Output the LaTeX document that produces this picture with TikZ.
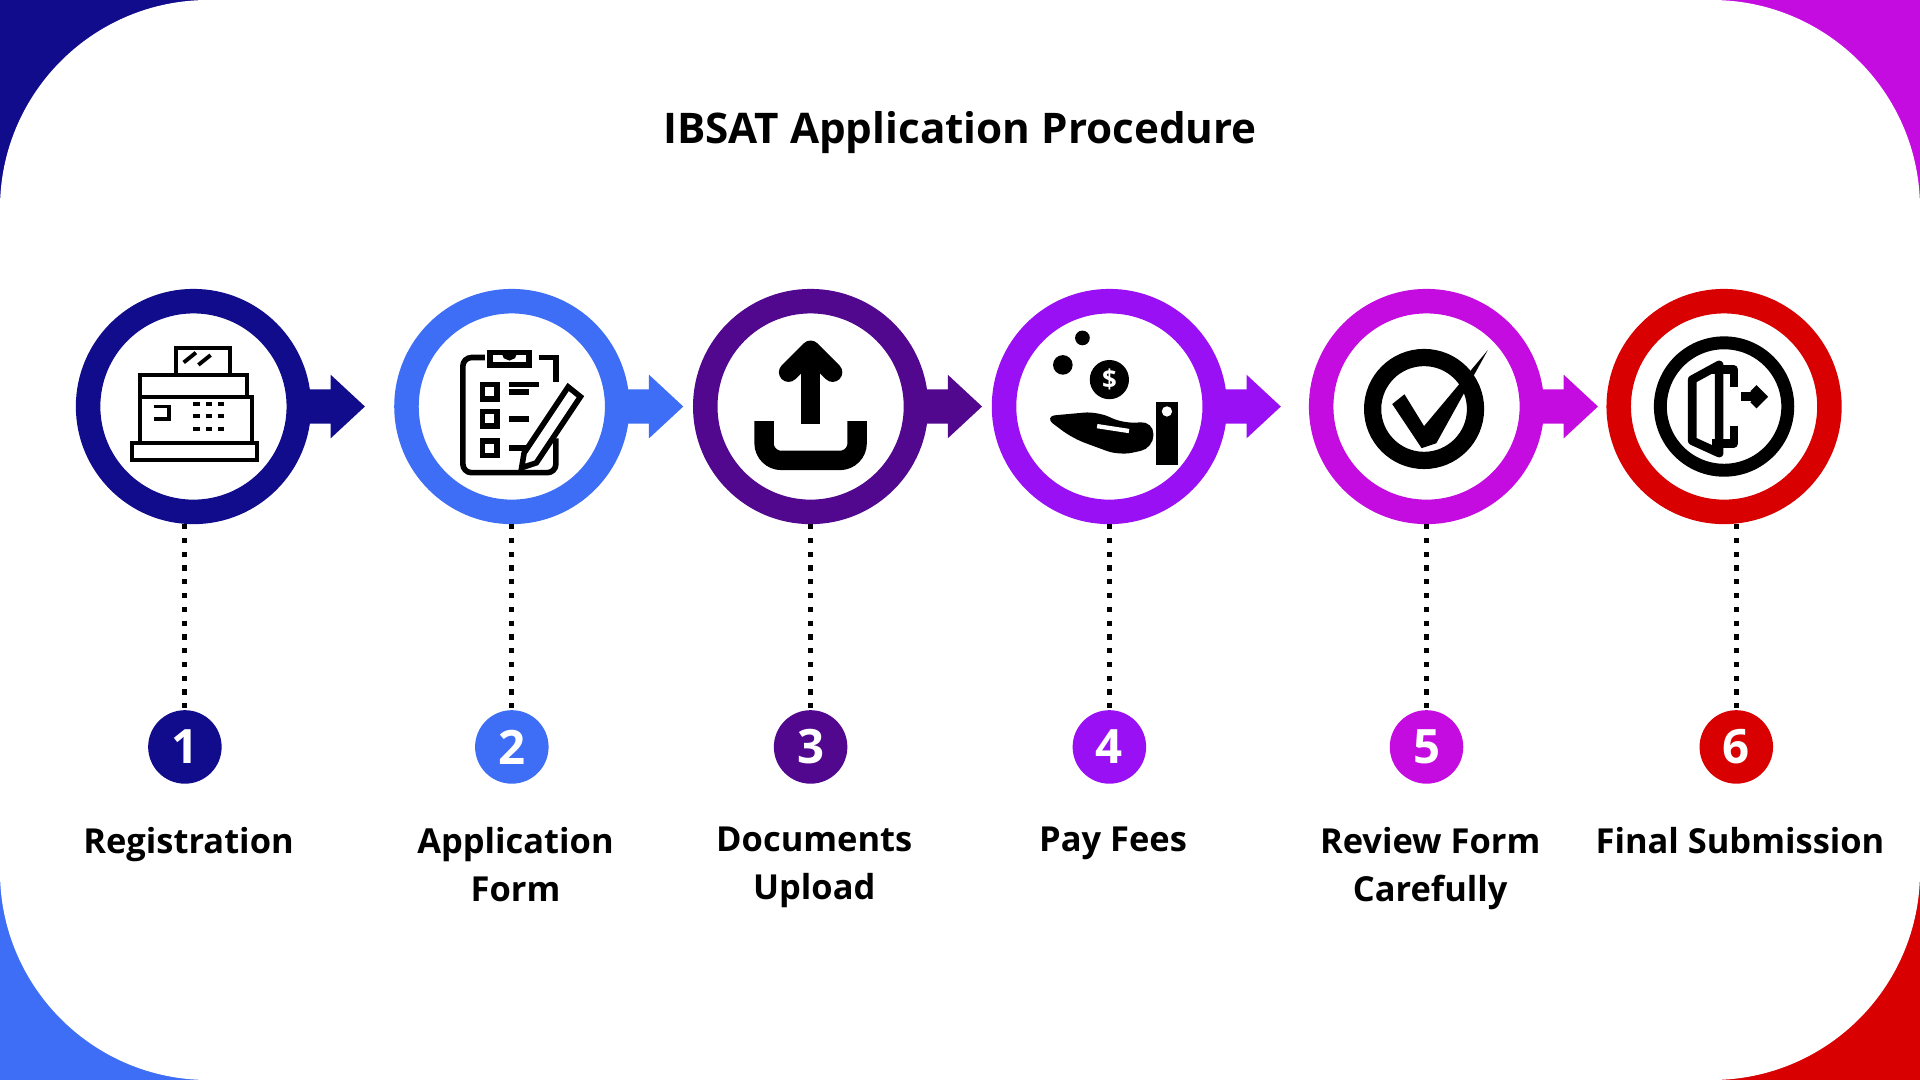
\documentclass[tikz,border=0pt]{standalone}
\usepackage{fontspec}
\setmainfont{Open Sans}
\usetikzlibrary{positioning,calc}
\definecolor{stepone}{HTML}{110C8C}
\definecolor{steptwo}{HTML}{3D6EF5}
\definecolor{stepthree}{HTML}{52078F}
\definecolor{stepfour}{HTML}{9A10F5}
\definecolor{stepfive}{HTML}{C50CE0}
\definecolor{stepsix}{HTML}{D80000}
\tikzset{
  ring/.style={circle,draw=#1,line width=0.2cm,minimum size=1.72cm,fill=white},
  numdot/.style={circle,fill=#1,minimum size=0.6cm,inner sep=0pt,text=white,font=\bfseries\fontsize{11}{11}\selectfont},
  steplabel/.style={align=center,font=\bfseries\fontsize{8}{11.2}\selectfont,anchor=north},
  icon/.style={line width=0.9pt,black}
}
\begin{document}
\begin{tikzpicture}[x=0.01cm,y=-0.01cm]
  % background with coloured corners
  \useasboundingbox (0,0) rectangle (1568,882);
  \fill[stepone] (0,0) rectangle (784,441);
  \fill[stepfive] (784,0) rectangle (1568,441);
  \fill[steptwo] (0,441) rectangle (784,882);
  \fill[stepsix] (784,441) rectangle (1568,882);
  \fill[white,rounded corners=1.7cm] (0,0) rectangle (1568,882);
  \node[font=\bfseries\fontsize{9.8}{12}\selectfont] (title) at (784,108) {IBSAT Application Procedure};

  % steps
  \foreach \i/\x/\nx/\col/\lab in {1/158/151/stepone/Registration,2/418/418/steptwo/Application\\Form,
      3/662/662/stepthree/Documents\\Upload,4/906/906/stepfour/Pay Fees,
      5/1165/1165/stepfive/Review Form\\Carefully,6/1408/1418/stepsix/Final Submission}{
    \ifnum\i<6
      \fill[\col] (\x+85,318) -- (\x+112,318) -- (\x+112,306) -- (\x+140,332)
        -- (\x+112,358) -- (\x+112,346) -- (\x+85,346) -- cycle;
    \fi
    \node[ring=\col] (c\i) at (\x,332) {};
    \node[numdot=\col] (n\i) at (\nx,610) {\i};
    \draw[line width=1.2pt,dotted] (n\i |- c\i.south) -- (n\i.north);
    \node[steplabel] (l\i) at (\nx+3,663) {\lab};
  }

  % icon 1: cash register
  \begin{scope}[icon,shift={(c1.center)}]
    \draw (-14,-48) rectangle (30,-26);
    \draw (-8,-36) -- (2,-44) (4,-34) -- (14,-42);
    \draw (-44,-26) rectangle (44,-8);
    \draw (-44,-8) rectangle (48,30);
    \draw (-50,30) rectangle (52,44);
    \foreach \u in {0,10,20}\foreach \v in {-2,8,18} \draw (\u,\v) -- (\u+5,\v);
    \draw (-32,0) -- (-20,0) -- (-20,10) -- (-32,10);
  \end{scope}
  % icon 2: clipboard
  \begin{scope}[icon,shift={(c2.center)}]
    \draw[line width=1.3pt,rounded corners=2] (-22,-40) -- (-40,-40) -- (-40,54) -- (36,54) -- (36,26);
    \draw[line width=1.3pt] (22,-40) -- (36,-40) -- (36,-20);
    \draw[line width=1.3pt] (-18,-34) rectangle (14,-44);
    \draw[line width=1.3pt] (-6,-44) arc (180:0:4);
    \foreach \v in {-12,10,34}{
      \draw[line width=1.3pt] (-24,\v-6) rectangle (-12,\v+6);
      \draw[line width=1.3pt] (-2,\v) -- (14,\v);
    }
    \draw[line width=1.3pt] (-2,-18) -- (22,-18);
    \draw[line width=1.3pt] (10,38) -- (46,-16) -- (56,-8) -- (20,46) -- (8,50) -- cycle;
  \end{scope}
  % icon 3: upload
  \begin{scope}[shift={(c3.center)}]
    \draw[line width=4.5pt] (0,14) -- (0,-40);
    \draw[line width=4.5pt,line cap=round,line join=round] (-18,-28) -- (0,-46) -- (18,-28);
    \draw[line width=4.5pt,rounded corners=4pt] (-38,12) -- (-38,44) -- (38,44) -- (38,12);
  \end{scope}
  % icon 4: hand with coins
  \begin{scope}[shift={(c4.center)}]
    \fill (-38,-34) circle (0.08cm) (-22,-56) circle (0.06cm) (0,-22) circle (0.16cm);
    \node[white,font=\bfseries\fontsize{6}{6}\selectfont] at (0,-22) {\$};
    \fill (38,-4) rectangle (56,48);
    \fill[rounded corners=3] (-54,8) -- (-10,4) -- (12,14) -- (36,12) -- (36,34) -- (8,40) -- (-30,26) -- cycle;
    \draw[white,line width=1pt] (-10,16) -- (16,20);
    \fill[white] (47,4) circle (1.2pt);
  \end{scope}
  % icon 5: check in circle
  \begin{scope}[shift={(c5.center)}]
    \draw[line width=4pt] (-2,2) circle (0.42cm);
    \fill (-28,-2) -- (-18,-10) -- (-2,16) -- (50,-46) -- (8,30) -- (-4,34) -- cycle;
  \end{scope}
  % icon 6: exit door
  \begin{scope}[shift={(c6.center)}]
    \draw[line width=3pt] (0,0) circle (0.52cm);
    \draw[line width=2pt,line join=round] (-10,-30) -- (8,-30) -- (8,-16) (8,16) -- (8,30) -- (-10,30);
    \draw[line width=2pt,line join=round] (-26,-22) -- (-4,-34) -- (-4,38) -- (-26,28) -- cycle;
    \draw[line width=2pt] (14,-8) -- (30,-8);
    \draw[line width=2pt] (24,-15) -- (31,-8) -- (24,-1);
  \end{scope}
\end{tikzpicture}
\end{document}
